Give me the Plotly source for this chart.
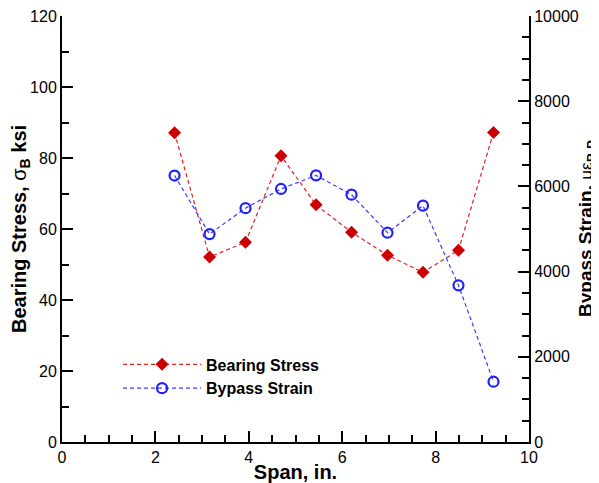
import plotly.graph_objects as go

span = [2.41, 3.16, 3.93, 4.69, 5.44, 6.20, 6.97, 7.73, 8.49, 9.24]
bearing_stress = [87.1, 52.1, 56.3, 80.6, 66.8, 59.1, 52.6, 47.8, 54.0, 87.2]
bypass_strain = [6255, 4880, 5490, 5940, 6259, 5806, 4913, 5548, 3678, 1415]

FONT = "Liberation Sans, Arial, sans-serif"

fig = go.Figure()
fig.add_trace(go.Scatter(
    x=span, y=bearing_stress, name="Bearing Stress", mode="lines+markers",
    line=dict(color="#E52020", width=1.2, dash="4px,3px"),
    marker=dict(symbol="diamond", size=10, color="#CC0000", line=dict(width=0)),
))
fig.add_trace(go.Scatter(
    x=span, y=bypass_strain, name="Bypass Strain", mode="lines+markers", yaxis="y2",
    line=dict(color="#3A3AFF", width=1.2, dash="4px,3px"),
    marker=dict(symbol="circle-open", size=10, color="#2020FF", line=dict(width=2.2)),
))

axis_common = dict(
    showgrid=False, zeroline=False, showline=True, linecolor="black", linewidth=2,
    ticks="inside", ticklen=11, tickwidth=2, tickcolor="black", automargin=False,
    ticklabeloverflow="allow",
    tickfont=dict(family=FONT, size=16, color="black"),
)

fig.update_layout(
    width=591, height=475,
    margin=dict(l=54, r=70, t=8, b=41),
    paper_bgcolor="white", plot_bgcolor="white",
    font=dict(family=FONT, color="black"),
    xaxis=dict(
        range=[0, 10], dtick=2, **axis_common,
        minor=dict(dtick=0.5, ticks="inside", ticklen=7, tickwidth=1.5, tickcolor="black"),
        title=dict(text="<b>Span, in.</b>", font=dict(size=20), standoff=0),
    ),
    yaxis=dict(
        range=[0, 120], dtick=20, **axis_common,
        minor=dict(dtick=10, ticks="inside", ticklen=7, tickwidth=1.5, tickcolor="black"),
        title=dict(text="<b>Bearing Stress, </b>σ<sub><b>B</b></sub><b> ksi</b>", font=dict(size=20), standoff=12),
    ),
    yaxis2=dict(
        range=[0, 10000], dtick=2000, tickformat="d", overlaying="y", side="right", **axis_common,
        minor=dict(dtick=500, ticks="inside", ticklen=7, tickwidth=1.5, tickcolor="black"),
    ),
    annotations=[dict(
        text="<b>Bypass Strain, </b><span style='font-size:17px'>με</span><sub><b>B P</b></sub>", textangle=-90,
        xref="paper", yref="paper", x=1, y=0.5, xanchor="center", yanchor="middle",
        xshift=58, showarrow=False, font=dict(family=FONT, size=19, color="black"),
    )],
    legend=dict(
        x=0.12, y=0.222, xanchor="left", yanchor="top",
        bgcolor="rgba(0,0,0,0)", font=dict(family=FONT, size=16, color="black", weight="bold"),
        itemwidth=78, tracegroupgap=0,
    ),
    showlegend=True,
)

fig.write_html("out.html")
